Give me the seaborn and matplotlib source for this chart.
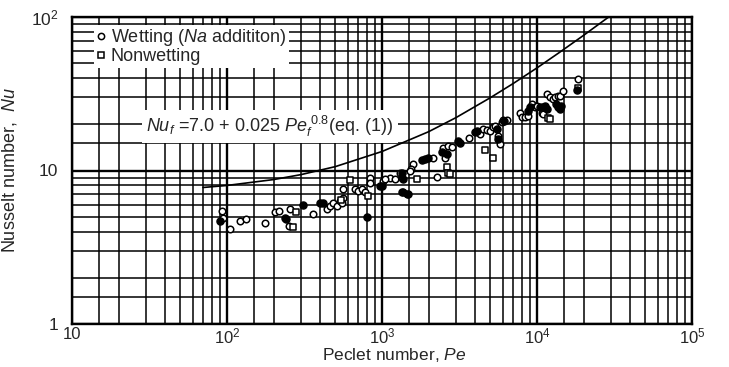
import numpy as np
import pandas as pd
import matplotlib
matplotlib.use("Agg")
import matplotlib.pyplot as plt
from matplotlib.ticker import LogLocator, FixedLocator, NullFormatter
from matplotlib.lines import Line2D
import seaborn as sns

# ---------------- data ----------------
wet_pe = [92.5, 94.5, 104, 122, 133, 176, 204, 216, 255, 252, 361, 439, 460, 485, 510,
          536, 563, 549, 563, 670, 703, 739, 776, 838, 838, 1018, 1127, 1213, 1372, 1440,
          1047, 1300, 1340, 1585, 1548, 1513, 2123, 2250, 2488, 2548, 2679, 2816, 3660,
          4285, 4506, 4732, 4977, 5240, 5360, 5640, 5780, 5920, 6070, 6380, 7762, 7960,
          8370, 8790, 9260, 9730, 9970, 10700, 10980, 11530, 12100, 12700, 13000, 13600,
          14000, 14700, 18450]
wet_nu = [5.45, 4.93, 4.18, 4.7, 4.8, 4.53, 5.37, 5.45, 5.58, 4.35, 5.24, 5.58, 5.88, 6.18, 5.88,
          6.3, 6.6, 6.1, 7.55, 7.55, 7.38, 7.55, 7.2, 9.0, 8.35, 8.55, 8.87, 8.8, 7.2, 7.0,
          8.8, 9.7, 9.0, 11.0, 10.2, 9.95, 12.15, 9.1, 14.1, 12.15, 14.5, 14.3, 16.3,
          17.3, 18.6, 18.3, 18.2, 19.1, 19.6, 16.8, 14.9, 20.6, 21.3, 21.3, 23.6, 22.2,
          22.4, 22.7, 27.1, 26.0, 26.4, 23.6, 23.3, 31.5, 30.0, 29.2, 30.0, 30.4,
          30.7, 33.1, 39.5]

nonwet_pe = [278, 267, 540, 622, 816, 1690, 2612, 2679, 2748, 4645, 5180, 11800, 12100, 18450]
nonwet_nu = [5.4, 4.28, 6.45, 8.64, 6.8, 8.8, 10.5, 9.7, 9.45, 13.6, 12.15, 21.9, 21.6, 34.5]

# overlapping (dark) points
dark_pe = [90, 237, 242, 308, 398, 418, 795, 970, 1340, 1372, 995, 1340, 1470, 1803, 1893,
           1990, 2427, 2612, 3112, 3188, 3981, 4083, 5480, 5590, 6130, 8790, 9020, 10450,
           10980, 11250, 11530, 13300, 13600, 14000, 14300, 18200]
dark_nu = [4.7, 4.93, 4.8, 6.0, 6.18, 6.1, 4.98, 7.94, 9.7, 8.8, 7.94, 7.2, 7.07, 11.75, 11.85,
           12.0, 13.1, 12.8, 15.6, 15.2, 17.7, 18.2, 18.6, 16.0, 21.1, 24.3, 25.8, 25.8,
           25.8, 26.4, 25.1, 27.1, 25.8, 25.1, 26.4, 33.6]

# eq. (1) curve
curve_pe = [70, 100, 200, 300, 500, 1000, 2000, 3000, 5000, 7000, 10000, 14000, 20000, 29000]
curve_nu = [7.75, 7.99, 8.73, 9.4, 10.6, 13.3, 17.9, 22.1, 29.8, 36.8, 46.6, 58.9, 76.0, 100]

x_ticks = [10, 100, 1000, 10000, 100000]
x_ticklabels = ["10", r"10$^{2}$", r"10$^{3}$", r"10$^{4}$", r"10$^{5}$"]
y_ticks = [1, 10, 100]
y_ticklabels = ["1", "10", r"10$^{2}$"]

legend_labels = [r"Wetting ($\mathit{Na}$ addititon)", "Nonwetting"]
eq_text = r"$\mathit{Nu}_f$ =7.0 + 0.025 $\mathit{Pe}_f^{\ 0.8}$(eq. (1))"
x_label = r"Peclet number, $\mathit{Pe}$"
y_label = r"Nusselt number,  $\mathit{Nu}$"

# ---------------- styling ----------------
sns.set_style("white")
plt.rcParams["font.family"] = ["Liberation Sans", "DejaVu Sans"]
plt.rcParams["mathtext.fontset"] = "custom"
plt.rcParams["mathtext.rm"] = "Liberation Sans"
plt.rcParams["mathtext.it"] = "Liberation Sans:italic"
plt.rcParams["mathtext.bf"] = "Liberation Sans:bold"

fig = plt.figure(figsize=(7.29, 3.67), dpi=100)
ax = fig.add_axes([72 / 729, 43 / 367, 620 / 729, 307 / 367])

ax.set_xscale("log")
ax.set_yscale("log")
ax.set_xlim(10, 1e5)
ax.set_ylim(1, 100)

# grid
subs = [1.5, 2, 3, 4, 5, 6, 7, 8, 9]
ax.xaxis.set_minor_locator(LogLocator(base=10, subs=subs, numticks=50))
ax.yaxis.set_minor_locator(LogLocator(base=10, subs=subs, numticks=50))
ax.xaxis.set_minor_formatter(NullFormatter())
ax.yaxis.set_minor_formatter(NullFormatter())
ax.xaxis.set_major_locator(FixedLocator(x_ticks))
ax.yaxis.set_major_locator(FixedLocator(y_ticks))
ax.set_xticklabels(x_ticklabels)
ax.set_yticklabels(y_ticklabels)
ax.grid(which="major", color="black", linewidth=1.7)
ax.grid(which="minor", color="black", linewidth=1.1)
ax.set_axisbelow(True)
ax.tick_params(which="both", length=0)
ax.tick_params(axis="x", labelsize=12, pad=2)
ax.tick_params(axis="y", labelsize=12.5, pad=10)
for sp in ax.spines.values():
    sp.set_color("black")
    sp.set_linewidth(1.7)

# curve
curve_df = pd.DataFrame({"Pe": curve_pe, "Nu": curve_nu})
sns.lineplot(data=curve_df, x="Pe", y="Nu", ax=ax, color="black", linewidth=1.2,
             sort=True, estimator=None, zorder=3)

# points
wet_df = pd.DataFrame({"Pe": wet_pe, "Nu": wet_nu})
non_df = pd.DataFrame({"Pe": nonwet_pe, "Nu": nonwet_nu})
dark_df = pd.DataFrame({"Pe": dark_pe, "Nu": dark_nu})
sns.scatterplot(data=wet_df, x="Pe", y="Nu", ax=ax, marker="o", s=22,
                facecolor="white", edgecolor="black", linewidth=1.1, zorder=4)
sns.scatterplot(data=non_df, x="Pe", y="Nu", ax=ax, marker="s", s=22,
                facecolor="white", edgecolor="black", linewidth=1.1, zorder=4)
sns.scatterplot(data=dark_df, x="Pe", y="Nu", ax=ax, marker="o", s=26,
                color="black", edgecolor="black", linewidth=1.0, zorder=5)

ax.set_xlabel(x_label, fontsize=12.5)
ax.xaxis.set_label_coords(0.52, -0.072)
ax.set_ylabel(y_label, fontsize=13, labelpad=8)

# legend
handles = [
    Line2D([], [], linestyle="none", marker="o", markersize=4.5, markerfacecolor="white",
           markeredgecolor="black", markeredgewidth=1.1),
    Line2D([], [], linestyle="none", marker="s", markersize=4.5, markerfacecolor="white",
           markeredgecolor="black", markeredgewidth=1.1),
]
leg = ax.legend(handles, legend_labels, loc="upper left", bbox_to_anchor=(0.035, 0.975),
                fontsize=13, frameon=True, fancybox=False, borderpad=0.15,
                handlelength=0.5, handletextpad=0.3, labelspacing=0.0, borderaxespad=0)
leg.get_frame().set_facecolor("white")
leg.get_frame().set_edgecolor("none")
leg.get_frame().set_alpha(1)
leg.set_zorder(6)

# equation annotation
ax.text(0.12, 0.625, eq_text, transform=ax.transAxes, fontsize=13, ha="left",
        va="baseline", zorder=6,
        bbox=dict(facecolor="white", edgecolor="none", pad=3))

fig.savefig("out.png", dpi=100)
